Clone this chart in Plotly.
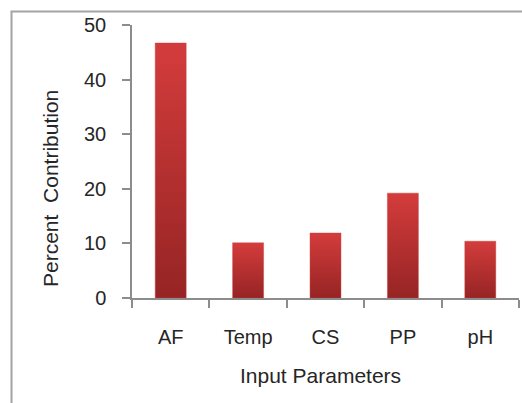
import plotly.graph_objects as go

# Percent contribution of each input parameter
categories = ["AF", "Temp", "CS", "PP", "pH"]
contribution = [46.7, 10.1, 11.9, 19.2, 10.4]
y_ticks = [0, 10, 20, 30, 40, 50]

W, H = 522, 403
ML, MR, MT, MB = 132, 3, 25, 105
bar_w = 0.40
font_family = "Liberation Sans, Arial, sans-serif"
axis_col = "#8c8c8c"
text_col = "#262626"

fig = go.Figure()

# Each column is a filled polygon so it can carry a vertical gradient
for i, (cat, val) in enumerate(zip(categories, contribution)):
    x0, x1 = i - bar_w / 2, i + bar_w / 2
    fig.add_trace(go.Scatter(
        x=[x0, x1, x1, x0, x0],
        y=[0, 0, val, val, 0],
        mode="lines",
        line=dict(width=0.8, color="rgba(200,60,60,0.55)"),
        fill="toself",
        fillgradient=dict(type="vertical",
                          colorscale=[[0, "#962424"], [1, "#d43c3c"]]),
        name=cat,
        hoverinfo="skip",
        showlegend=False,
    ))

plot_w = W - ML - MR
plot_h = H - MT - MB


def px_x(p):
    return (p - ML) / plot_w


def px_y(p):
    return (H - MB - p) / plot_h


fig.update_layout(
    width=W, height=H,
    margin=dict(l=ML, r=MR, t=MT, b=MB, pad=0),
    paper_bgcolor="white", plot_bgcolor="white",
    font=dict(family=font_family, color=text_col),
    xaxis=dict(
        range=[-0.5, len(categories) - 0.5],
        tickmode="array", tickvals=list(range(len(categories))),
        ticktext=categories, ticks="",
        tickfont=dict(size=20, color=text_col),
        ticklabelstandoff=20,
        showgrid=False, zeroline=False,
        showline=True, linecolor=axis_col, linewidth=1.5,
        minor=dict(tickmode="linear", tick0=-0.5, dtick=1,
                   ticks="outside", ticklen=8, tickwidth=1.5,
                   tickcolor=axis_col, showgrid=False),
        fixedrange=True,
    ),
    yaxis=dict(
        range=[0, 50],
        tickmode="array", tickvals=y_ticks,
        ticks="outside", ticklen=8, tickwidth=1.5, tickcolor=axis_col,
        tickfont=dict(size=20, color=text_col),
        ticklabelstandoff=12,
        showgrid=False, zeroline=False,
        showline=True, linecolor=axis_col, linewidth=1.5,
        fixedrange=True,
    ),
    annotations=[
        dict(text="Percent  Contribution", xref="paper", yref="paper",
             x=px_x(50), y=px_y(189), xanchor="center", yanchor="middle",
             textangle=-90, showarrow=False,
             font=dict(size=21, color=text_col)),
        dict(text="Input Parameters", xref="paper", yref="paper",
             x=px_x(320.5), y=px_y(376), xanchor="center", yanchor="middle",
             showarrow=False, font=dict(size=21, color=text_col)),
    ],
    shapes=[
        dict(type="rect", xref="paper", yref="paper",
             x0=px_x(11.5), x1=px_x(W + 20), y0=px_y(H + 20), y1=px_y(11.5),
             line=dict(color="#a3a3a3", width=2), fillcolor="rgba(0,0,0,0)",
             layer="below"),
    ],
)

fig.write_html("out.html")
